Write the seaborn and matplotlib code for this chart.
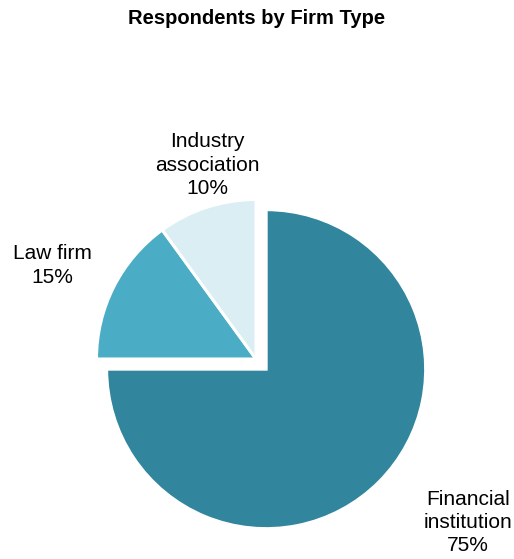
import numpy as np
import matplotlib
matplotlib.use("Agg")
import matplotlib.pyplot as plt
import seaborn as sns

# Survey data
firm_types = ["Financial\ninstitution", "Law firm", "Industry\nassociation"]
shares = [75, 15, 10]
colors = ["#31859C", "#4BACC6", "#DAEEF3"]
explode = [0.09, 0.0, 0.0]

# Label placement (distance from centre in radii, angle in degrees)
label_dist = [1.678, 1.407, 1.254]
label_angle = [-37.6, 155.4, 104.2]

sns.set_theme(style="white")
plt.rcParams["font.family"] = ["Liberation Sans", "DejaVu Sans"]

W, H = 514, 559
fig = plt.figure(figsize=(W / 100, H / 100), dpi=100)
ax = fig.add_axes([0, 0, 1, 1])

scale = 159.5  # pixels per unit radius
cx, cy = 256, 359  # pie centre in pixels from top-left

ax.pie(shares, colors=colors, explode=explode, startangle=90,
       counterclock=False, radius=1.0,
       wedgeprops=dict(edgecolor="white", linewidth=2.2))

ax.set_xlim(-cx / scale, (W - cx) / scale)
ax.set_ylim(-(H - cy) / scale, cy / scale)
ax.set_aspect("equal")
ax.axis("off")

for name, val, d, a in zip(firm_types, shares, label_dist, label_angle):
    t = np.deg2rad(a)
    ax.text(d * np.cos(t), d * np.sin(t), f"{name}\n{val}%",
            ha="center", va="center", fontsize=15, color="black",
            linespacing=1.28)

fig.text(0.5, 1 - 18 / H, "Respondents by Firm Type", ha="center",
         va="center", fontsize=14.5, fontweight="bold", color="black")

fig.savefig("out.png", dpi=100)
